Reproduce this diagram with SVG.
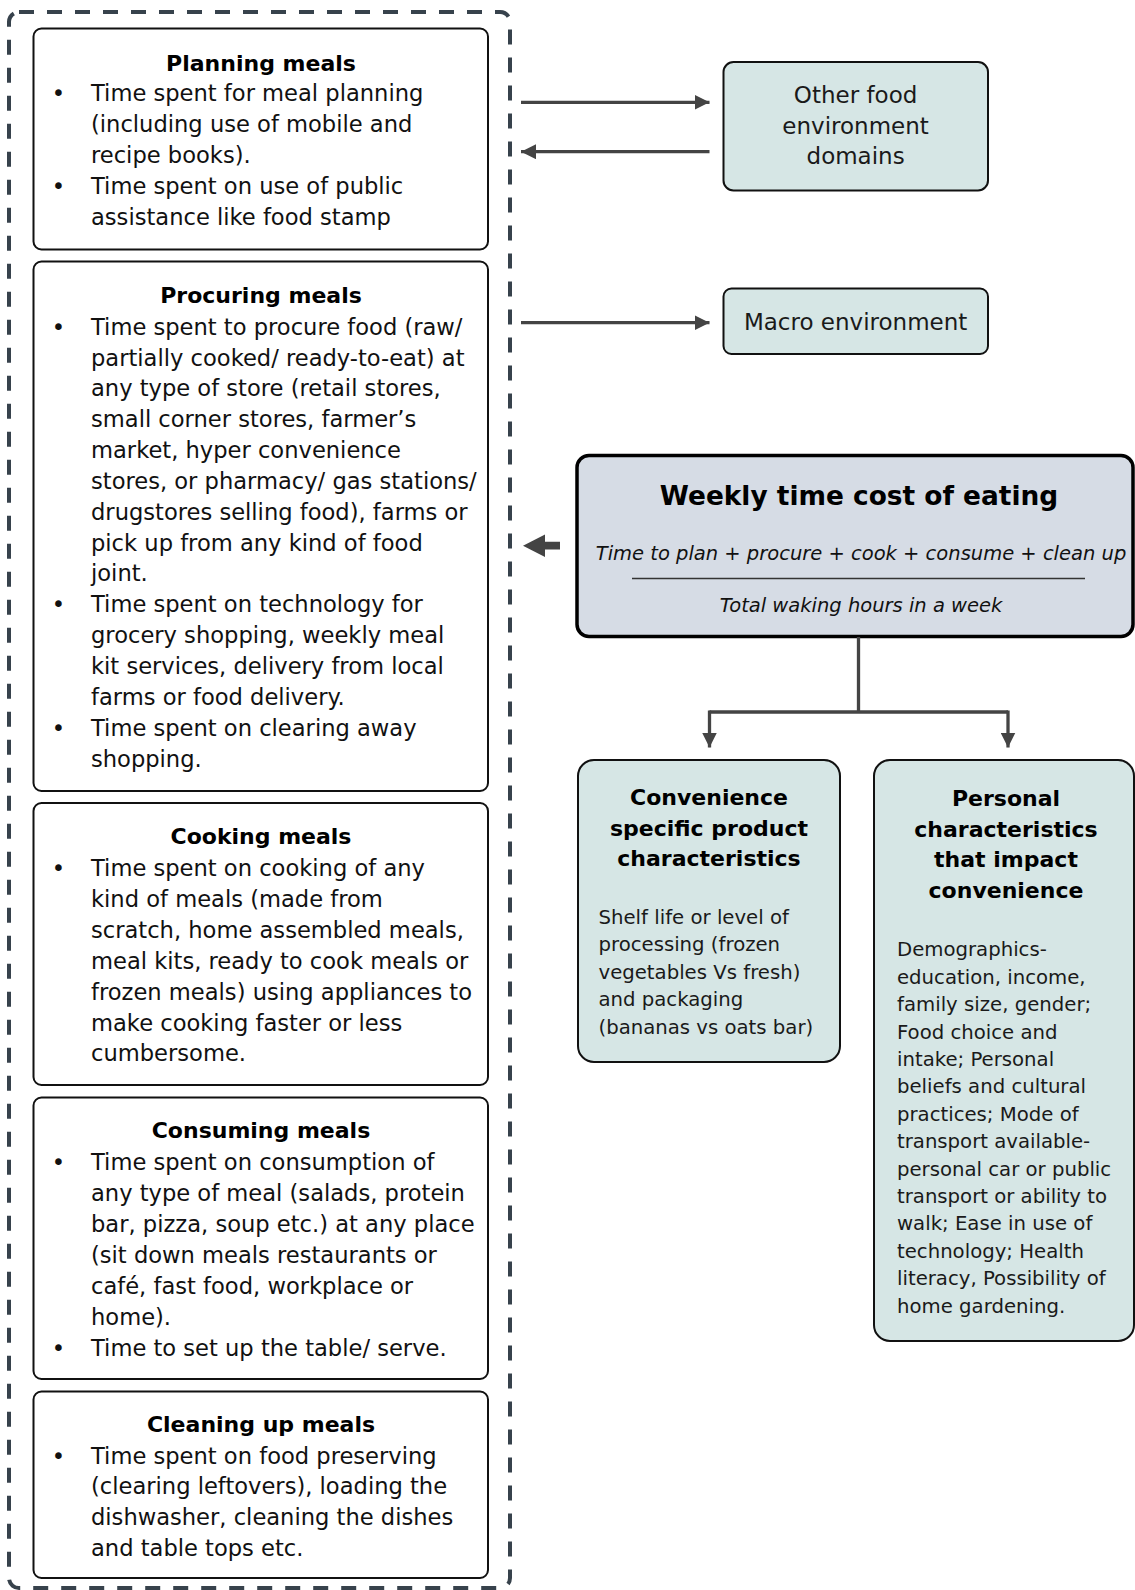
<svg xmlns="http://www.w3.org/2000/svg" width="1135" height="1590" viewBox="0 0 1135 1590">
<defs>
<style>
.body{font-family:"DejaVu Sans","Liberation Sans",sans-serif;font-size:22.6px;fill:#111}
.ttl{font-family:"DejaVu Sans","Liberation Sans",sans-serif;font-size:22px;font-weight:bold;fill:#000;text-anchor:middle}
.rt{font-family:"DejaVu Sans","Liberation Sans",sans-serif;font-size:23px;fill:#1a1a1a;text-anchor:middle}
.sm{font-family:"DejaVu Sans","Liberation Sans",sans-serif;font-size:19.7px;fill:#1a1a1a}
.it{font-family:"DejaVu Sans","Liberation Sans",sans-serif;font-size:19.5px;font-style:italic;fill:#111;text-anchor:middle}
.bul{text-anchor:middle}
.lbox{fill:#fff;stroke:#111;stroke-width:2}
.teal{fill:#d6e6e5;stroke:#111;stroke-width:2}
.conn{fill:none;stroke:#444;stroke-width:3.3}
</style>
<marker id="ah" viewBox="0 0 10 10" refX="10" refY="5" markerWidth="15" markerHeight="15" markerUnits="userSpaceOnUse" orient="auto">
<path d="M0,0 L10,5 L0,10 z" fill="#444"/>
</marker>
</defs>

<rect id="outer" x="9" y="12" width="501" height="1576" rx="10" fill="none" stroke="#37424c" stroke-width="4" stroke-dasharray="15 13"/>

<g id="planning">
<rect class="lbox" x="33.5" y="28.5" width="454.5" height="221" rx="8"/>
<text class="ttl" x="261" y="70.5">Planning meals</text>
<text class="body"><tspan class="bul" x="58.5" y="101.3">•</tspan><tspan x="91" y="101.3">Time spent for meal planning</tspan><tspan x="91" y="132.2">(including use of mobile and</tspan><tspan x="91" y="163">recipe books).</tspan><tspan class="bul" x="58.5" y="193.9">•</tspan><tspan x="91" y="193.9">Time spent on use of public</tspan><tspan x="91" y="224.7">assistance like food stamp</tspan></text>
</g>

<g id="procuring">
<rect class="lbox" x="33.5" y="261.5" width="454.5" height="529.5" rx="8"/>
<text class="ttl" x="261" y="303">Procuring meals</text>
<text class="body"><tspan class="bul" x="58.5" y="334.6">•</tspan><tspan x="91" y="334.6">Time spent to procure food (raw/</tspan><tspan x="91" y="365.5">partially cooked/ ready-to-eat) at</tspan><tspan x="91" y="396.3">any type of store (retail stores,</tspan><tspan x="91" y="427.2">small corner stores, farmer’s</tspan><tspan x="91" y="458">market, hyper convenience</tspan><tspan x="91" y="488.9">stores, or pharmacy/ gas stations/</tspan><tspan x="91" y="519.7">drugstores selling food), farms or</tspan><tspan x="91" y="550.6">pick up from any kind of food</tspan><tspan x="91" y="581.4">joint.</tspan><tspan class="bul" x="58.5" y="612.3">•</tspan><tspan x="91" y="612.3">Time spent on technology for</tspan><tspan x="91" y="643.1">grocery shopping, weekly meal</tspan><tspan x="91" y="674">kit services, delivery from local</tspan><tspan x="91" y="704.8">farms or food delivery.</tspan><tspan class="bul" x="58.5" y="735.7">•</tspan><tspan x="91" y="735.7">Time spent on clearing away</tspan><tspan x="91" y="766.5">shopping.</tspan></text>
</g>

<g id="cooking">
<rect class="lbox" x="33.5" y="803" width="454.5" height="282" rx="8"/>
<text class="ttl" x="261" y="843.8">Cooking meals</text>
<text class="body"><tspan class="bul" x="58.5" y="876.2">•</tspan><tspan x="91" y="876.2">Time spent on cooking of any</tspan><tspan x="91" y="907.1">kind of meals (made from</tspan><tspan x="91" y="937.9">scratch, home assembled meals,</tspan><tspan x="91" y="968.8">meal kits, ready to cook meals or</tspan><tspan x="91" y="999.6">frozen meals) using appliances to</tspan><tspan x="91" y="1030.5">make cooking faster or less</tspan><tspan x="91" y="1061.3">cumbersome.</tspan></text>
</g>

<g id="consuming">
<rect class="lbox" x="33.5" y="1097.5" width="454.5" height="281.5" rx="8"/>
<text class="ttl" x="261" y="1138">Consuming meals</text>
<text class="body"><tspan class="bul" x="58.5" y="1170.4">•</tspan><tspan x="91" y="1170.4">Time spent on consumption of</tspan><tspan x="91" y="1201.3">any type of meal (salads, protein</tspan><tspan x="91" y="1232.1">bar, pizza, soup etc.) at any place</tspan><tspan x="91" y="1263">(sit down meals restaurants or</tspan><tspan x="91" y="1293.8">café, fast food, workplace or</tspan><tspan x="91" y="1324.7">home).</tspan><tspan class="bul" x="58.5" y="1355.5">•</tspan><tspan x="91" y="1355.5">Time to set up the table/ serve.</tspan></text>
</g>

<g id="cleaning">
<rect class="lbox" x="33.5" y="1391.5" width="454.5" height="186.5" rx="8"/>
<text class="ttl" x="261" y="1432">Cleaning up meals</text>
<text class="body"><tspan class="bul" x="58.5" y="1463.5">•</tspan><tspan x="91" y="1463.5">Time spent on food preserving</tspan><tspan x="91" y="1494.4">(clearing leftovers), loading the</tspan><tspan x="91" y="1525.2">dishwasher, cleaning the dishes</tspan><tspan x="91" y="1556.1">and table tops etc.</tspan></text>
</g>

<g id="other-food">
<rect class="teal" x="723.5" y="62" width="264.5" height="128.5" rx="10"/>
<text class="rt"><tspan x="855.6" y="103.3">Other food</tspan><tspan x="855.6" y="133.8">environment</tspan><tspan x="855.6" y="164.2">domains</tspan></text>
</g>

<g id="macro">
<rect class="teal" x="723.5" y="288.5" width="264.5" height="65.5" rx="8"/>
<text class="rt" x="855.6" y="329.5">Macro environment</text>
</g>

<g id="weekly">
<rect x="577" y="455.5" width="556" height="181" rx="12" fill="#d6dce5" stroke="#000" stroke-width="3.5"/>
<text class="ttl" x="859" y="505" style="font-size:26.4px">Weekly time cost of eating</text>
<text class="it" x="861" y="560">Time to plan + procure + cook + consume + clean up</text>
<line x1="632" y1="578.5" x2="1085" y2="578.5" stroke="#333" stroke-width="1.3"/>
<text class="it" x="861" y="611.5">Total waking hours in a week</text>
</g>

<g id="convenience">
<rect class="teal" x="578" y="760" width="262" height="302" rx="16"/>
<text class="ttl"><tspan x="709" y="805">Convenience</tspan><tspan x="709" y="836">specific product</tspan><tspan x="709" y="866">characteristics</tspan></text>
<text class="sm"><tspan x="598.5" y="924">Shelf life or level of</tspan><tspan x="598.5" y="951">processing (frozen</tspan><tspan x="598.5" y="979">vegetables Vs fresh)</tspan><tspan x="598.5" y="1006">and packaging</tspan><tspan x="598.5" y="1033.5">(bananas vs oats bar)</tspan></text>
</g>

<g id="personal">
<rect class="teal" x="874" y="760" width="260" height="581" rx="16"/>
<text class="ttl"><tspan x="1006" y="806">Personal</tspan><tspan x="1006" y="837">characteristics</tspan><tspan x="1006" y="867">that impact</tspan><tspan x="1006" y="898">convenience</tspan></text>
<text class="sm"><tspan x="897" y="956.4">Demographics-</tspan><tspan x="897" y="983.8">education, income,</tspan><tspan x="897" y="1011.2">family size, gender;</tspan><tspan x="897" y="1038.6">Food choice and</tspan><tspan x="897" y="1066">intake; Personal</tspan><tspan x="897" y="1093.4">beliefs and cultural</tspan><tspan x="897" y="1120.8">practices; Mode of</tspan><tspan x="897" y="1148.2">transport available-</tspan><tspan x="897" y="1175.6">personal car or public</tspan><tspan x="897" y="1203">transport or ability to</tspan><tspan x="897" y="1230.4">walk; Ease in use of</tspan><tspan x="897" y="1257.8">technology; Health</tspan><tspan x="897" y="1285.2">literacy, Possibility of</tspan><tspan x="897" y="1312.6">home gardening.</tspan></text>
</g>

<g id="connectors">
<line class="conn" x1="521" y1="102.3" x2="709.5" y2="102.3" marker-end="url(#ah)"/>
<line class="conn" x1="709.5" y1="151.7" x2="521" y2="151.7" marker-end="url(#ah)"/>
<line class="conn" x1="521" y1="322.7" x2="709.5" y2="322.7" marker-end="url(#ah)"/>
<path d="M560,541.8 L545,541.8 L545,534.5 L523,545.7 L545,557 L545,549.6 L560,549.6 z" fill="#444"/>
<path class="conn" d="M858.5,637 L858.5,712 M709.5,712 L1008,712"/>
<line class="conn" x1="709.5" y1="710.5" x2="709.5" y2="747.5" marker-end="url(#ah)"/>
<line class="conn" x1="1008" y1="710.5" x2="1008" y2="747.5" marker-end="url(#ah)"/>
</g>
</svg>
